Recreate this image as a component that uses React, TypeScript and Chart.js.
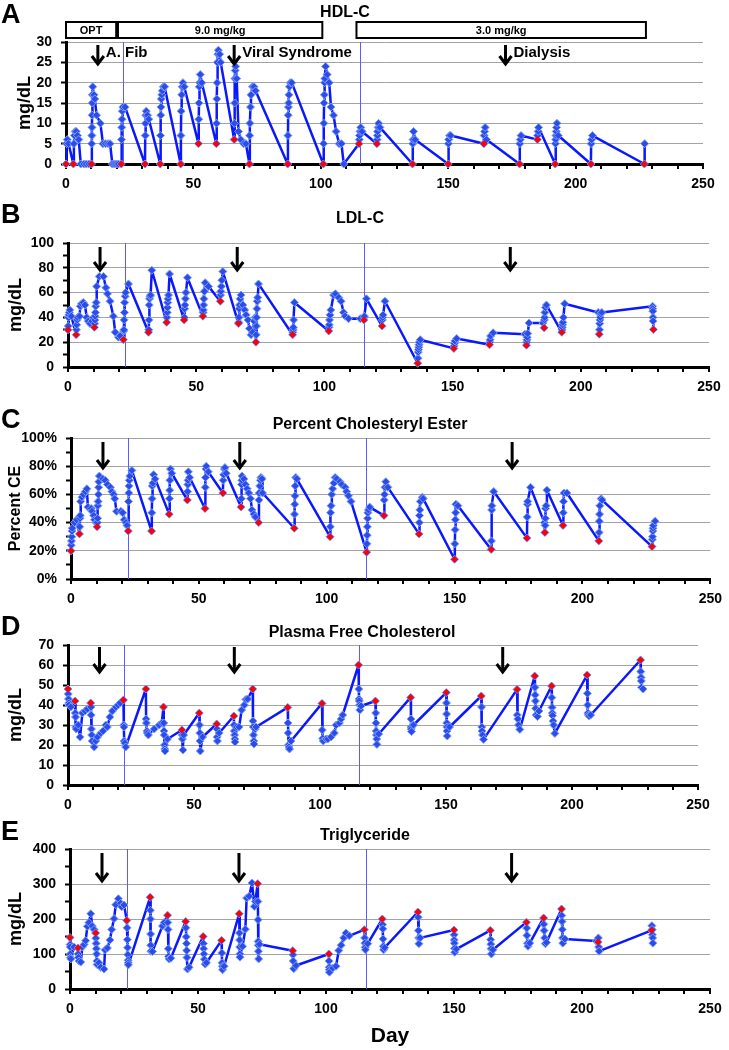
import React, { useEffect, useRef } from 'react';
import { Chart, registerables } from 'chart.js';

Chart.register(...registerables);

type P = [number, number];
const FONT = "'Liberation Sans', Arial, sans-serif";

// ---------- Panel A: HDL-C (mg/dL) ----------
const hdlPreDose: P[] = [[0,0],[2.9,0],[10,0],[21.7,0],[31,0],[37,0],[45,0],[52,5],[59,5],[66,6],[72,0],[87,0],[101,0],[115,5],[122,5],[136,0],[150,0],[164,5],[178,0],[185,6],[192,0],[206,0],[227,0]];
const hdlOther: P[] = [
  [0.2,5],[0.5,6],[1,5],
  [3.1,5],[3.3,7],[3.6,8],[4,8],[4.5,7],[5,6],[5.8,0],[7,0],[8,0],[9,0],
  [10.1,5],[10.15,7],[10.2,9],[10.25,12],[10.3,15],[10.35,17],[10.5,19],[11,17],[11.3,16],[12,12],[13.5,10],[14.5,5],[15.5,5],[16.5,5],[17.3,5],[18.2,0],[19,0],[19.8,0],[20.6,0],
  [21.8,6],[21.9,9],[22,11],[22.1,13],[22.3,14],[23.2,14],
  [31.1,7],[31.2,10],[31.3,12],[31.5,13],[32,12],[32.5,11],
  [37.1,7],[37.2,12],[37.3,14],[37.4,16],[37.6,17],[37.8,18],[38.2,19],[38.7,19],
  [45.1,7],[45.2,13],[45.4,17],[45.6,19],[45.9,20],[46.4,19],
  [52.1,11],[52.2,15],[52.3,19],[52.5,20],[52.7,22],[53.3,20],
  [59.1,10],[59.2,16],[59.3,20],[59.4,25],[59.6,27],[59.8,28],[60.3,27],[60.7,25],
  [66.1,10],[66.2,15],[66.3,21],[66.4,23],[66.6,24],[67,21],[67.7,8],[68.6,6],[69.7,5],[70.6,5],
  [72.1,7],[72.2,10],[72.4,14],[72.6,17],[73.2,19],[73.8,19],[74.4,18],
  [87.1,7],[87.2,12],[87.3,14],[87.4,15],[87.5,17],[87.7,19],[88,20],[88.6,20],
  [101.1,5],[101.2,10],[101.3,15],[101.4,17],[101.5,20],[101.6,21],[101.9,24],[102.5,22],[103.3,20],[104,14],[105,12],[106,8],[107.2,5],[108.1,5],[109,0],
  [115.1,6],[115.2,7],[115.4,8],[115.7,9],[116.2,8],
  [122.1,6],[122.2,7],[122.3,8],[122.5,9],[122.7,10],[123.2,9],
  [136.1,5],[136.2,6],[136.4,8],[137,6],
  [150.1,5],[150.2,6],[150.5,7],[151,7],
  [164.1,7],[164.3,8],[164.5,9],[165,6],
  [178.1,5],[178.3,6],[178.6,7],
  [185.1,7],[185.3,8],[185.5,9],
  [192.1,5],[192.2,6],[192.3,7],[192.4,8],[192.5,9],[192.7,10],[193.2,7],
  [206.1,5],[206.3,6],[206.6,7],
  [227.1,5]
];

// ---------- Panel B: LDL-C (mg/dL) ----------
const ldlPreDose: P[] = [[0,30],[3.2,26],[10.3,32],[21.6,22],[31.4,28],[38.5,36],[45.3,38],[52.6,41],[59.4,53],[66.5,35],[73.3,20],[87.6,26],[101.7,29],[115.4,38],[122.5,33],[136.4,3],[150.5,15],[164.4,18],[178.8,17.6],[185.7,31.6],[192.6,28],[207.2,26.5],[228.3,30.3]];
const ldlOther: P[] = [
  [0.1,33],[0.2,40],[0.3,42],[0.5,44],[0.7,46],[1.3,41],
  [3.3,30],[3.4,34],[3.6,38],[3.8,40],[4.5,41],[4.8,49],[5.3,51],[6,52],[6.6,50],[7.3,40],[7.9,37],[8.6,35],[9.3,37],[9.9,40],
  [10.4,35],[10.5,38],[10.6,41],[10.7,44],[10.8,49],[11,52],[11.2,65],[12.2,73],[13.8,73],[14.8,64],[15.4,59],[16.4,53],[17.7,41],[18.4,28],[19.7,24],[20.3,25],
  [21.7,29],[21.8,30],[21.9,38],[22,44],[22.1,52],[22.3,57],[22.5,60],[23.6,67],
  [31.5,30],[31.6,38],[31.7,50],[31.8,55],[32,57],[32.2,58],[32.7,78],
  [38.6,40],[38.7,44],[38.8,48],[38.9,52],[39,55],[39.2,58],[39.6,75],
  [45.4,40],[45.5,47],[45.6,50],[45.8,55],[46,60],[46.6,72],
  [52.7,44],[52.8,46],[52.9,50],[53,55],[53.2,61],[53.5,68],[54.8,65],
  [59.5,58],[59.6,61],[59.8,65],[60,70],[60.4,77],
  [66.6,36],[66.7,40],[66.8,47],[66.9,50],[67.1,55],[67.5,58],[68.2,50],[68.9,46],[69.5,42],[70.2,38],[70.8,31],[71.4,26],[72,28],[72.6,37],[73,40],
  [73.4,26],[73.5,33],[73.6,40],[73.7,47],[73.8,53],[74,56],[74.3,67],
  [87.7,28],[87.8,30],[87.9,32],[88,38],[88.3,52],
  [101.8,32],[101.9,34],[102,38],[102.2,42],[102.5,46],[103.6,58],[104.3,59],[105.6,56],[106.5,53],[107.5,44],[108.1,41],[109.4,39],[114,39],
  [115.5,40],[115.6,41],[116.4,55],
  [122.6,38],[122.7,40],[122.9,42],[123.6,53],
  [136.5,7],[136.6,12],[136.7,14],[136.8,16],[136.9,18],[137,20],[137.4,22],
  [150.6,17],[150.7,19],[150.9,21],[151.6,23],
  [164.5,20],[164.6,22],[164.8,25],[165.8,27.6],[178.2,26.5],
  [178.9,20],[179,22],[179.1,24],[179.3,27],[179.8,35.5],[185.2,35.5],
  [185.8,38],[185.9,40],[186,44],[186.2,48],[186.6,50],
  [192.7,30],[192.8,32],[192.9,34],[193,36],[193.2,40],[193.7,51],[206.8,44],
  [207.3,30],[207.4,35],[207.5,38],[207.6,40],[207.8,43],[208.2,44],
  [228,49],[228.05,47],[228.1,45],[228.15,40],[228.2,37]
];

// ---------- Panel C: Percent cholesteryl ester (%) ----------
const cePreDose: P[] = [[0,20],[3.3,32],[10.2,37],[22.4,34],[31.5,34],[38.4,46],[45.5,56],[52.4,50],[59.4,61],[66.5,51],[73.4,40],[87.3,36],[101.3,30],[115.6,19],[122.4,45],[136.1,32],[150,14],[164.3,21],[178.3,29],[185.3,33],[192.4,38],[206.4,27],[227.2,23]];
const ceOther: P[] = [
  [0.1,24],[0.2,27],[0.3,30],[0.4,34],[0.5,36],[1.4,40],[2.2,42],
  [3.4,37],[3.5,43],[3.6,45],[3.8,55],[4.3,58],[4.9,60],[5.6,62],[6.2,64],[6.6,51],[7.9,50],[8.2,48],[8.9,45],[9.2,42],[9.8,40],
  [10.3,40],[10.4,43],[10.5,52],[10.6,55],[10.7,60],[10.8,65],[10.9,69],[11.1,73],[12.4,71],[13.4,70],[14.3,67],[15.4,65],[16,62],[16.7,60],[17.1,57],[17.8,48],[19.5,48],[20.2,47],[20.8,42],[21.5,40],[21.9,38],
  [22.5,55],[22.6,61],[22.7,66],[22.8,70],[23,73],[23.8,77],
  [31.6,47],[31.7,57],[31.8,66],[32,68],[32.3,74],[32.9,71],
  [38.5,57],[38.6,63],[38.7,70],[38.9,78],[39.4,75],
  [45.6,62],[45.7,67],[45.8,70],[45.9,76],[46.4,72],
  [52.5,65],[52.6,72],[52.8,78],[52.9,80],[53.7,76],
  [59.5,70],[59.7,74],[60,78],[60.2,79],[60.7,75],
  [66.6,57],[66.7,67],[66.8,70],[66.9,73],[67.6,71],[68.2,67],[68.9,64],[69.5,61],[70.2,57],[70.8,49],[71.5,46],[72.1,44],
  [73.5,56],[73.6,61],[73.8,66],[74.1,70],[74.3,72],[74.7,71],[74.9,61],
  [87.4,46],[87.5,53],[87.6,59],[87.7,66],[87.9,72],[88.3,71],
  [101.4,37],[101.5,47],[101.7,52],[102,60],[102.3,64],[102.8,68],[103.3,72],[103.9,71],[105.2,69],[105.9,67],[107.2,65],[107.8,62],[108.5,59],[109.5,55],
  [115.7,25],[115.8,31],[115.9,37],[116,43],[116.1,47],[116.3,49],[116.8,51],
  [122.5,56],[122.6,60],[122.8,65],[123.1,69],[123.9,65],
  [136.2,40],[136.3,45],[136.4,49],[136.6,55],[137.4,58],[137.7,57],
  [150.1,25],[150.2,35],[150.3,42],[150.4,47],[150.5,53],[151.3,52],
  [164.4,27],[164.5,49],[164.6,52],[165.3,62],
  [178.4,44],[178.5,53],[178.6,55],[179.7,65],[185.1,40],
  [185.4,38],[185.5,43],[185.6,50],[185.8,52],[186.1,63],
  [192.5,47],[192.6,55],[192.8,61],[193.9,61],
  [206.5,33],[206.6,41],[206.7,46],[206.8,52],[207.3,57],[207.7,56],
  [227.3,28],[227.4,30],[227.5,34],[227.6,36],[227.7,38],[228.4,41]
];

// ---------- Panel D: Plasma free cholesterol (mg/dL) ----------
const fcPreDose: P[] = [[0,48],[2.8,42],[9,41],[22,42.5],[30.9,48],[37.9,39],[45.2,27.5],[52.1,36],[59,30.5],[65.8,34.5],[73.3,48],[87.2,38.8],[100.8,40.8],[115.3,60],[122,42],[136,43.8],[150.1,46.2],[164,44.5],[178.2,47.8],[185.2,54.5],[191.9,49.5],[206,55],[227.2,62.5]];
const fcOther: P[] = [
  [0.1,45.5],[0.2,43],[0.3,41],[0.4,40],[1.1,39],
  [2.9,36],[3,34],[3.1,29],[3.3,28],[4.1,30],[4.8,24],[5.7,36],[6.8,37],[7.7,38],
  [9.1,39],[9.2,35],[9.3,28],[9.4,25],[9.6,22],[10.4,19],[11,22],[11.7,24],[13,26],[13.9,27],[15,30],[15.6,29],[16.6,34],[17.6,37],[19,39],[19.9,40],[20.7,41],
  [22.1,30],[22.2,29],[22.3,22],[22.5,21],[22.9,19],
  [31,33],[31.1,31],[31.3,27],[31.5,26],[31.9,25],[34.2,28],[36.2,30],[37.2,31],
  [38,31],[38.1,27],[38.2,25],[38.3,20],[38.4,18],[38.5,17],[39.5,23],
  [45.3,25],[45.4,23],[45.6,17.5],[45.9,25],
  [52.2,30],[52.3,26],[52.4,22],[52.5,17],[53.4,24],
  [59.1,28],[59.2,24],[59.3,22],[60,26],
  [65.9,30],[66,27],[66.1,25],[66.2,23],[66.3,21.5],[66.9,29],[67.9,29],[68.9,37.5],[70,40],[70.6,42.8],[71.3,43],
  [73.4,32],[73.5,29],[73.6,25],[73.7,22],[73.8,20.5],[74.3,28],[74.6,29],
  [87.3,31],[87.4,26],[87.5,20],[87.7,19],[87.9,18],[88.5,22],
  [100.9,27.5],[101.1,23.3],[101.3,22],[102.4,23],[103.1,23],[104.4,24],[105.7,26],[106.4,30],[107.7,31],[108.4,33],[109,35],
  [115.4,48],[115.5,43],[115.6,42],[115.7,40],[115.8,37.5],[116.3,39.5],
  [122.1,36],[122.2,31],[122.3,27],[122.4,25],[122.5,23],[122.6,20.3],[123.3,25.5],
  [136.1,33],[136.15,29],[136.2,28],[136.3,26.7],[137.1,30],
  [150.2,41],[150.25,35.5],[150.3,31],[150.35,29],[150.4,27],[150.5,24.5],[151.4,29],
  [164.1,39],[164.2,29],[164.3,27],[164.5,25],[164.9,22.8],
  [178.3,35],[178.5,33],[178.8,30],[179.3,27.8],
  [185.3,48.8],[185.4,45],[185.5,42],[185.6,38.3],[185.8,35],[186.3,34.2],[186.9,37],
  [192,43.7],[192.1,38.8],[192.2,36],[192.3,34.7],[192.5,32],[192.7,30],[193.2,25.8],
  [206.1,45.8],[206.2,40],[206.3,36],[206.5,35],[206.8,34.5],[207.4,35],
  [227.3,56.7],[227.4,53.8],[227.5,52],[227.6,48.8],[228.2,48]
];

// ---------- Panel E: Triglyceride (mg/dL) ----------
const tgPreDose: P[] = [[0,147],[3.1,117],[10,160],[22.2,196],[31.3,262],[38.1,211],[45.2,193],[52,150],[59.2,139],[66.1,215],[73.3,301],[87,109.5],[101.1,100],[115,169.5],[122,200],[135.9,220],[150,168.6],[164.2,167.6],[178.3,191],[185,203],[192,228.6],[206.3,134],[227.2,167.6]];
const tgOther: P[] = [
  [0.05,127],[0.1,120],[0.15,100],[0.2,90],[0.3,86],[1.6,120],
  [3.2,100],[3.3,90],[3.5,80],[4.2,77],[4.8,120],[5.5,127],[6.1,138],[6.8,179],[7.4,190],[8.1,215],[8.7,180],[9.4,170],
  [10.1,145],[10.2,130],[10.3,115],[10.4,100],[10.5,80],[10.6,70],[11.3,75],[12,62],[13.3,57],[13.7,112],[14.6,117],[15.6,140],[16.3,170],[17.2,201],[17.9,241],[18.9,258],[19.8,245],[20.2,235],[21.1,240],
  [22.3,175],[22.4,141],[22.5,118],[22.6,98],[22.7,82],[22.75,75],[22.8,69],
  [31.4,225],[31.45,200],[31.5,157],[31.55,125],[31.6,108],[32.2,107],[36.1,180],[36.8,190],
  [38.2,190],[38.3,170],[38.4,115],[38.5,93],[38.7,86],[39.4,88],
  [45.3,175],[45.4,149],[45.5,130],[45.6,110],[45.7,90],[45.9,57],[46.5,62],
  [52.1,130],[52.2,115],[52.3,100],[52.5,85],[52.8,71],[53.3,75],
  [59.3,103],[59.4,75],[59.5,65],[59.6,55],[60.2,65],
  [66.2,160],[66.25,140],[66.3,120],[66.35,100],[66.4,91],[67.4,122],[68.5,171],[69,260],[70,265],[71.1,303],[72,236],[72.4,250],
  [73.4,250],[73.45,198],[73.5,136],[73.55,125],[73.6,108],[73.7,86],[74,128],
  [87.1,98],[87.2,80],[87.4,58],[88.3,67],
  [101.2,80],[101.25,62],[101.3,55],[101.35,48],[102.6,60],[103.9,65],[105,110],[105.9,125],[106.9,146],[107.8,160],[109.1,152],
  [115.1,146],[115.2,131],[115.3,119],[115.4,112],[116.3,129.5],
  [122.1,184],[122.2,172],[122.3,143],[122.4,122],[122.5,112],[122.9,118],
  [136,205],[136.1,167],[136.2,146],[136.3,129.5],[136.8,146],
  [150.05,155],[150.1,140],[150.15,131],[150.2,116],[150.3,105],[150.9,114],
  [164.3,141],[164.4,128],[164.5,115],[164.6,100],[165.2,112],
  [178.4,174],[178.5,153],[178.7,131],[178.9,122],[179.6,131],
  [185.1,185],[185.2,167],[185.4,146],[185.7,129.5],[186.1,133],
  [192.1,210],[192.2,193],[192.3,170],[192.4,146],[192.5,131],[193.3,143],
  [205.6,137],[206.4,146],[206.5,120],[206.7,108],
  [227.3,181],[227.4,170],[227.5,155],[227.6,146],[227.7,131]
];

// ---------- Annotations ----------
const arrowDays = [12.5, 66, 172.5];
const eventLabels = ['A. Fib', 'Viral Syndrome', 'Dialysis'];
const markerLineDays = [22.2, 115.5];
const doseLabels = ['OPT', '9.0 mg/kg', '3.0 mg/kg'];
const doseStart = [0, 20.4, 114];
const doseEnd = [19.7, 100.6, 227.6];

interface PanelCfg {
  letter: string; title: string; yTitle: string; yTitleSize: number; yTitlePad: number;
  yMax: number; yStep: number; yLabelStep: number; percent?: boolean;
  other: P[]; pre: P[];
  canvasTop: number; plotTop: number; plotBottom: number; bottomH: number;
  left: number; right: number;
  titleX: number; titleBase: number; letterBase: number;
  arrowTop: number; arrowBottom: number;
  events?: boolean; boxes?: boolean; xTitle?: string;
}

const panels: PanelCfg[] = [
  { letter: 'A', title: 'HDL-C', yTitle: 'mg/dL', yTitleSize: 18, yTitlePad: 14, yMax: 30, yStep: 5, yLabelStep: 5,
    other: hdlOther, pre: hdlPreDose, canvasTop: 0, plotTop: 42, plotBottom: 164, bottomH: 36, left: 66, right: 703,
    titleX: 345, titleBase: 17, letterBase: 23, arrowTop: 45, arrowBottom: 65, events: true, boxes: true },
  { letter: 'B', title: 'LDL-C', yTitle: 'mg/dL', yTitleSize: 18, yTitlePad: 5, yMax: 100, yStep: 10, yLabelStep: 20,
    other: ldlOther, pre: ldlPreDose, canvasTop: 195, plotTop: 243, plotBottom: 367, bottomH: 33, left: 68, right: 709,
    titleX: 360, titleBase: 223, letterBase: 223, arrowTop: 247, arrowBottom: 271 },
  { letter: 'C', title: 'Percent Cholesteryl Ester', yTitle: 'Percent CE', yTitleSize: 16, yTitlePad: 6, yMax: 100, yStep: 10, yLabelStep: 20, percent: true,
    other: ceOther, pre: cePreDose, canvasTop: 390, plotTop: 438, plotBottom: 579, bottomH: 30, left: 71, right: 714,
    titleX: 370, titleBase: 429, letterBase: 428, arrowTop: 442, arrowBottom: 469 },
  { letter: 'D', title: 'Plasma Free Cholesterol', yTitle: 'mg/dL', yTitleSize: 18, yTitlePad: 5, yMax: 70, yStep: 10, yLabelStep: 10,
    other: fcOther, pre: fcPreDose, canvasTop: 595, plotTop: 645, plotBottom: 785, bottomH: 30, left: 68, right: 698,
    titleX: 362, titleBase: 637, letterBase: 635, arrowTop: 647, arrowBottom: 673 },
  { letter: 'E', title: 'Triglyceride', yTitle: 'mg/dL', yTitleSize: 18, yTitlePad: 5, yMax: 400, yStep: 50, yLabelStep: 100,
    other: tgOther, pre: tgPreDose, canvasTop: 799, plotTop: 849, plotBottom: 989, bottomH: 61, left: 70, right: 710,
    titleX: 365, titleBase: 840, letterBase: 840, arrowTop: 853, arrowBottom: 882, xTitle: 'Day' },
];

function drawArrow(ctx: CanvasRenderingContext2D, x: number, y0: number, y1: number) {
  ctx.strokeStyle = '#000';
  ctx.lineWidth = 3;
  ctx.lineCap = 'butt';
  ctx.lineJoin = 'miter';
  ctx.beginPath();
  ctx.moveTo(x, y0);
  ctx.lineTo(x, y1 - 2);
  ctx.stroke();
  ctx.beginPath();
  ctx.moveTo(x - 6, y1 - 9);
  ctx.lineTo(x, y1 - 1);
  ctx.lineTo(x + 6, y1 - 9);
  ctx.stroke();
}

function Panel({ cfg }: { cfg: PanelCfg }) {
  const ref = useRef<HTMLCanvasElement>(null);
  const height = cfg.plotBottom - cfg.canvasTop + cfg.bottomH;

  useEffect(() => {
    if (!ref.current) return;
    const series = [...cfg.other, ...cfg.pre].sort((a, b) => a[0] - b[0]);
    const t = cfg.canvasTop;
    const deco = {
      id: 'deco' + cfg.letter,
      beforeDatasetsDraw(chart: any) {
        const { ctx, chartArea, scales } = chart;
        ctx.save();
        ctx.strokeStyle = '#5b5bff';
        ctx.lineWidth = 1;
        markerLineDays.forEach((d) => {
          const x = Math.round(scales.x.getPixelForValue(d)) + 0.5;
          ctx.beginPath();
          ctx.moveTo(x, chartArea.top);
          ctx.lineTo(x, chartArea.bottom);
          ctx.stroke();
        });
        ctx.restore();
      },
      afterDraw(chart: any) {
        const { ctx, scales } = chart;
        ctx.save();
        ctx.fillStyle = '#000';
        ctx.textBaseline = 'alphabetic';
        ctx.textAlign = 'left';
        ctx.font = `bold 27px ${FONT}`;
        ctx.fillText(cfg.letter, 1, cfg.letterBase - t);
        ctx.textAlign = 'center';
        ctx.font = `bold 16px ${FONT}`;
        ctx.fillText(cfg.title, cfg.titleX, cfg.titleBase - t);
        arrowDays.forEach((d, i) => {
          const x = scales.x.getPixelForValue(d);
          drawArrow(ctx, x, cfg.arrowTop - t, cfg.arrowBottom - t);
          if (cfg.events) {
            ctx.fillStyle = '#000';
            ctx.textAlign = 'left';
            ctx.font = `bold 15px ${FONT}`;
            ctx.fillText(eventLabels[i], x + 8, 57 - t);
          }
        });
        if (cfg.boxes) {
          doseLabels.forEach((label, i) => {
            const x0 = scales.x.getPixelForValue(doseStart[i]);
            const x1 = scales.x.getPixelForValue(doseEnd[i]);
            ctx.fillStyle = '#fff';
            ctx.fillRect(x0, 22 - t, x1 - x0, 16);
            ctx.strokeStyle = '#000';
            ctx.lineWidth = 2;
            ctx.strokeRect(x0, 22 - t, x1 - x0, 16);
            ctx.fillStyle = '#000';
            ctx.textAlign = 'center';
            ctx.font = `bold 11px ${FONT}`;
            ctx.fillText(label, (x0 + x1) / 2, 34 - t);
          });
        }
        ctx.restore();
      },
    };

    const tickFont = { family: FONT, size: 14, weight: 'bold' as const };
    const chart = new Chart(ref.current, {
      type: 'scatter',
      data: {
        datasets: [
          {
            label: 'pre-dose',
            data: cfg.pre.map(([x, y]) => ({ x, y })),
            showLine: false,
            pointStyle: 'rectRot',
            pointRadius: 3.5,
            pointBackgroundColor: '#ff0000',
            pointBorderColor: '#ff1010',
            pointBorderWidth: 0,
            order: 0,
            clip: false,
          },
          {
            label: 'all',
            data: series.map(([x, y]) => ({ x, y })),
            showLine: true,
            borderColor: '#0a18ff',
            borderWidth: 2.5,
            borderJoinStyle: 'round',
            borderCapStyle: 'round',
            tension: 0,
            pointStyle: 'rectRot',
            pointRadius: 4,
            pointBackgroundColor: '#2a4ce8',
            pointBorderColor: '#7f9dff',
            pointBorderWidth: 1,
            order: 1,
            clip: false,
          },
        ],
      },
      options: {
        animation: false,
        responsive: false,
        devicePixelRatio: 1,
        events: [],
        layout: { padding: { top: cfg.plotTop - cfg.canvasTop, right: 729 - cfg.right, left: 0, bottom: 0 } },
        plugins: { legend: { display: false }, tooltip: { enabled: false }, title: { display: false } },
        scales: {
          x: {
            type: 'linear',
            position: 'bottom',
            min: 0,
            max: 250,
            afterFit: (s: any) => { s.height = cfg.bottomH; },
            ticks: {
              stepSize: 10,
              maxTicksLimit: 100,
              autoSkip: false,
              maxRotation: 0,
              padding: 7,
              color: '#000',
              font: tickFont,
              callback: (v: any) => (Number(v) % 50 === 0 ? String(v) : ''),
            },
            grid: { drawOnChartArea: false, drawTicks: true, tickLength: 5, color: '#000', tickColor: '#000', lineWidth: 2, tickWidth: 2 },
            border: { display: true, color: '#000', width: 3 },
            title: cfg.xTitle
              ? { display: true, text: cfg.xTitle, color: '#000', font: { family: FONT, size: 21, weight: 'bold' }, padding: { top: 0, bottom: 1 } }
              : { display: false },
          },
          y: {
            type: 'linear',
            min: 0,
            max: cfg.yMax,
            afterFit: (s: any) => { s.width = cfg.left; },
            ticks: {
              stepSize: cfg.yStep,
              maxTicksLimit: 100,
              autoSkip: false,
              padding: 9,
              color: '#000',
              font: tickFont,
              callback: (v: any) => (Number(v) % cfg.yLabelStep === 0 ? (cfg.percent ? `${v}%` : String(v)) : ''),
            },
            grid: {
              drawTicks: true,
              tickLength: 5,
              tickColor: '#000',
              tickWidth: 2,
              lineWidth: 1,
              color: (c: any) => {
                const v = c.tick ? c.tick.value : 0;
                return v !== 0 && v % cfg.yLabelStep === 0 ? '#a3a3a3' : 'rgba(0,0,0,0)';
              },
            },
            border: { display: true, color: '#000', width: 3 },
            title: {
              display: true,
              text: cfg.yTitle,
              color: '#000',
              font: { family: FONT, size: cfg.yTitleSize, weight: 'bold' },
              padding: { top: cfg.yTitlePad, bottom: 0 },
            },
          },
        },
      },
      plugins: [deco],
    } as any);
    return () => chart.destroy();
  }, [cfg]);

  return (
    <canvas
      ref={ref}
      width={729}
      height={height}
      style={{ position: 'absolute', left: 0, top: cfg.canvasTop, width: 729, height }}
    />
  );
}

export default function App() {
  return (
    <div style={{ position: 'absolute', left: 0, top: 0, width: 729, height: 1050, background: '#fff', overflow: 'hidden' }}>
      {panels.map((p) => (
        <Panel key={p.letter} cfg={p} />
      ))}
    </div>
  );
}
